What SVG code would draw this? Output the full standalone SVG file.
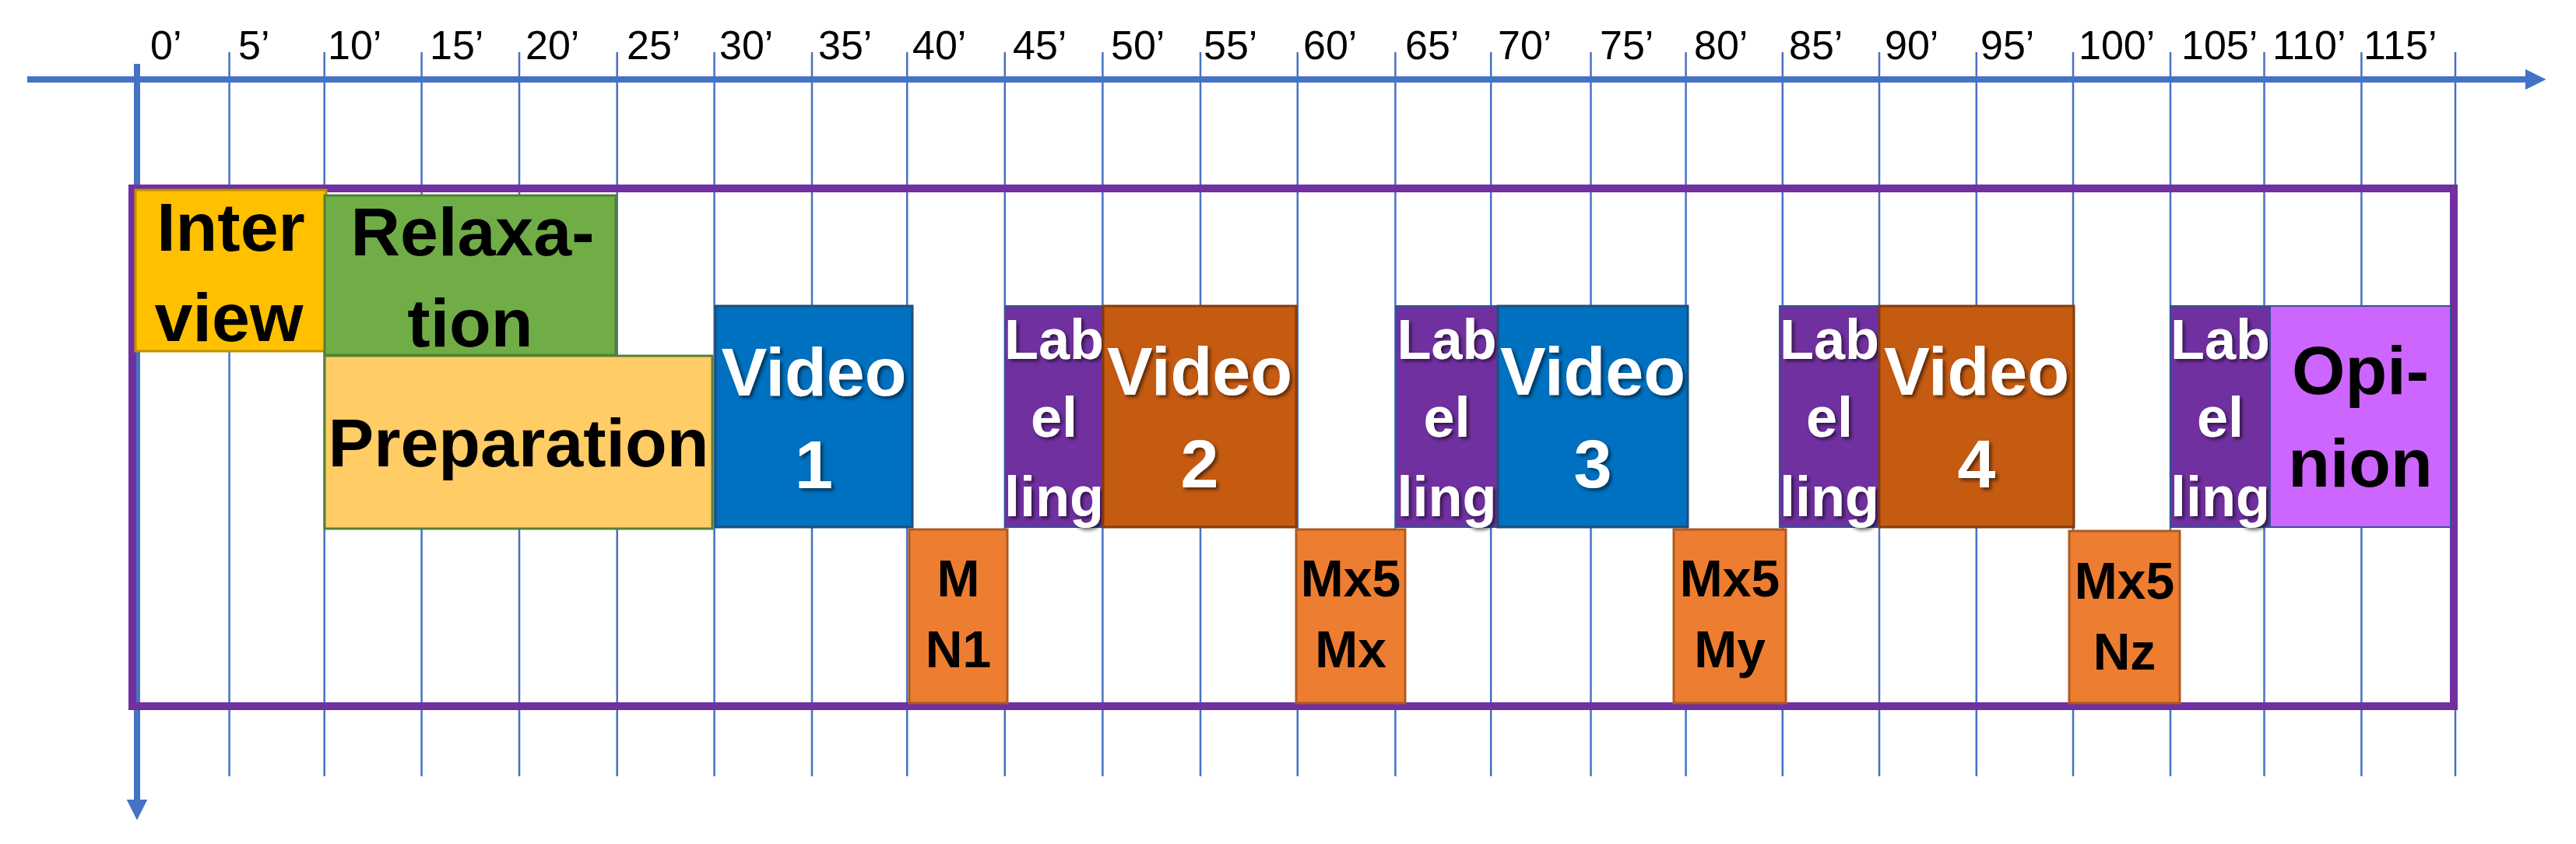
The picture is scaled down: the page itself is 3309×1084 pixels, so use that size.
<svg xmlns="http://www.w3.org/2000/svg" width="3309" height="1084" viewBox="0 0 3309 1084">
<style>
.tick{stroke:#4472C4;stroke-width:2.5;fill:none}
.axis{stroke:#4472C4;stroke-width:8;fill:none}
.lbl{font-family:"Liberation Sans",Arial,sans-serif;font-size:52px;fill:#000}
.t{font-family:"Liberation Sans",Arial,sans-serif;font-weight:bold;text-anchor:middle}
.big{font-size:88px}
.lab{font-size:72px;fill:#fff}
.mx{font-size:66px;fill:#000}
.w{fill:#fff}
.k{fill:#000}
</style>
<defs>
<filter id="sh" x="-20%" y="-20%" width="140%" height="140%">
<feDropShadow dx="3" dy="3" stdDeviation="2" flood-color="#000" flood-opacity="0.55"/>
</filter>
<marker id="ah" viewBox="0 0 10 10" refX="0" refY="5" markerWidth="3.3" markerHeight="3.3" orient="auto" markerUnits="strokeWidth">
<path d="M0,0 L10,5 L0,10 z" fill="#4472C4"/>
</marker>
</defs>

<g id="grid">
<line class="tick" x1="294.6" y1="67" x2="294.6" y2="997"/>
<line class="tick" x1="416.7" y1="67" x2="416.7" y2="997"/>
<line class="tick" x1="541.6" y1="67" x2="541.6" y2="997"/>
<line class="tick" x1="667" y1="67" x2="667" y2="997"/>
<line class="tick" x1="792.7" y1="67" x2="792.7" y2="997"/>
<line class="tick" x1="917.6" y1="67" x2="917.6" y2="997"/>
<line class="tick" x1="1043" y1="67" x2="1043" y2="997"/>
<line class="tick" x1="1165.2" y1="67" x2="1165.2" y2="997"/>
<line class="tick" x1="1290.8" y1="67" x2="1290.8" y2="997"/>
<line class="tick" x1="1416.4" y1="67" x2="1416.4" y2="997"/>
<line class="tick" x1="1542" y1="67" x2="1542" y2="997"/>
<line class="tick" x1="1666.8" y1="67" x2="1666.8" y2="997"/>
<line class="tick" x1="1792.4" y1="67" x2="1792.4" y2="997"/>
<line class="tick" x1="1915.2" y1="67" x2="1915.2" y2="997"/>
<line class="tick" x1="2043.5" y1="67" x2="2043.5" y2="997"/>
<line class="tick" x1="2165.6" y1="67" x2="2165.6" y2="997"/>
<line class="tick" x1="2289.8" y1="67" x2="2289.8" y2="997"/>
<line class="tick" x1="2414" y1="67" x2="2414" y2="997"/>
<line class="tick" x1="2538.8" y1="67" x2="2538.8" y2="997"/>
<line class="tick" x1="2663" y1="67" x2="2663" y2="997"/>
<line class="tick" x1="2788" y1="67" x2="2788" y2="997"/>
<line class="tick" x1="2908.5" y1="67" x2="2908.5" y2="997"/>
<line class="tick" x1="3033.4" y1="67" x2="3033.4" y2="997"/>
<line class="tick" x1="3154" y1="67" x2="3154" y2="997"/>
</g>

<g id="tick-labels">
<text class="lbl" x="193" y="76">0’</text>
<text class="lbl" x="306" y="76">5’</text>
<text class="lbl" x="421" y="76">10’</text>
<text class="lbl" x="552" y="76">15’</text>
<text class="lbl" x="675" y="76">20’</text>
<text class="lbl" x="805" y="76">25’</text>
<text class="lbl" x="924" y="76">30’</text>
<text class="lbl" x="1051" y="76">35’</text>
<text class="lbl" x="1172" y="76">40’</text>
<text class="lbl" x="1301" y="76">45’</text>
<text class="lbl" x="1427" y="76">50’</text>
<text class="lbl" x="1546" y="76">55’</text>
<text class="lbl" x="1674" y="76">60’</text>
<text class="lbl" x="1805" y="76">65’</text>
<text class="lbl" x="1924" y="76">70’</text>
<text class="lbl" x="2055" y="76">75’</text>
<text class="lbl" x="2176" y="76">80’</text>
<text class="lbl" x="2298" y="76">85’</text>
<text class="lbl" x="2421" y="76">90’</text>
<text class="lbl" x="2544" y="76">95’</text>
<text class="lbl" x="2670" y="76">100’</text>
<text class="lbl" x="2802" y="76">105’</text>
<text class="lbl" x="2919" y="76">110’</text>
<text class="lbl" x="3036" y="76">115’</text>
</g>

<g id="connectors">
<line class="axis" x1="35" y1="102" x2="3244" y2="102" marker-end="url(#ah)"/>
<line class="axis" x1="176" y1="82" x2="176" y2="1027" stroke-width="7" marker-end="url(#ah)"/>
</g>

<rect id="frame" x="170" y="242" width="2982" height="665" fill="none" stroke="#7030A0" stroke-width="10"/>

<g id="interview">
<rect x="174" y="244" width="245" height="207" fill="#FFC000" stroke="#BF9000" stroke-width="3"/>
<text class="t big k" x="296.5" y="322">Inter</text>
<text class="t big k" x="294" y="438">view</text>
</g>
<g id="relaxation">
<rect x="417" y="251" width="374" height="205" fill="#70AD47" stroke="#507E32" stroke-width="3"/>
<text class="t big k" x="607" y="328">Relaxa-</text>
<text class="t big k" x="604" y="445">tion</text>
</g>
<g id="preparation">
<rect x="417" y="457" width="498" height="222" fill="#FFCC66" stroke="#548235" stroke-width="3"/>
<text class="t big k" x="666" y="599">Preparation</text>
</g>
<g id="video1">
<rect x="919" y="393" width="253" height="284" fill="#0070C0" stroke="#1F4E79" stroke-width="3"/>
<text class="t big w" x="1045.5" y="508" filter="url(#sh)">Video</text>
<text class="t big w" x="1045.5" y="627" filter="url(#sh)">1</text>
</g>
<g id="mn1">
<rect x="1168" y="680" width="126" height="223" fill="#ED7D31" stroke="#AE5A21" stroke-width="3"/>
<text class="t mx" x="1231" y="766">M</text>
<text class="t mx" x="1231" y="857">N1</text>
</g>
<g id="labelling1">
<rect x="1291" y="393" width="126" height="284" fill="#7030A0" stroke="#2F5597" stroke-width="2"/>
<text class="t lab" x="1354" y="461" filter="url(#sh)">Lab</text>
<text class="t lab" x="1354" y="561" filter="url(#sh)">el</text>
<text class="t lab" x="1354" y="663" filter="url(#sh)">ling</text>
</g>
<g id="video2">
<rect x="1417" y="393" width="248" height="284" fill="#C55A11" stroke="#843C0C" stroke-width="3"/>
<text class="t big w" x="1541" y="507" filter="url(#sh)">Video</text>
<text class="t big w" x="1541" y="626" filter="url(#sh)">2</text>
</g>
<g id="mx5mx">
<rect x="1665" y="680" width="140" height="223" fill="#ED7D31" stroke="#AE5A21" stroke-width="3"/>
<text class="t mx" x="1735" y="766">Mx5</text>
<text class="t mx" x="1735" y="857">Mx</text>
</g>
<g id="labelling2">
<rect x="1793" y="393" width="131" height="284" fill="#7030A0" stroke="#2F5597" stroke-width="2"/>
<text class="t lab" x="1858.5" y="461" filter="url(#sh)">Lab</text>
<text class="t lab" x="1858.5" y="561" filter="url(#sh)">el</text>
<text class="t lab" x="1858.5" y="663" filter="url(#sh)">ling</text>
</g>
<g id="video3">
<rect x="1924" y="393" width="244" height="284" fill="#0070C0" stroke="#1F4E79" stroke-width="3"/>
<text class="t big w" x="2046" y="507" filter="url(#sh)">Video</text>
<text class="t big w" x="2046" y="626" filter="url(#sh)">3</text>
</g>
<g id="mx5my">
<rect x="2150" y="680" width="144" height="223" fill="#ED7D31" stroke="#AE5A21" stroke-width="3"/>
<text class="t mx" x="2222" y="766">Mx5</text>
<text class="t mx" x="2222" y="857">My</text>
</g>
<g id="labelling3">
<rect x="2286" y="393" width="128" height="284" fill="#7030A0" stroke="#2F5597" stroke-width="2"/>
<text class="t lab" x="2350" y="461" filter="url(#sh)">Lab</text>
<text class="t lab" x="2350" y="561" filter="url(#sh)">el</text>
<text class="t lab" x="2350" y="663" filter="url(#sh)">ling</text>
</g>
<g id="video4">
<rect x="2414" y="393" width="250" height="284" fill="#C55A11" stroke="#843C0C" stroke-width="3"/>
<text class="t big w" x="2539" y="507" filter="url(#sh)">Video</text>
<text class="t big w" x="2539" y="626" filter="url(#sh)">4</text>
</g>
<g id="mx5nz">
<rect x="2658" y="682" width="142" height="221" fill="#ED7D31" stroke="#AE5A21" stroke-width="3"/>
<text class="t mx" x="2729" y="769">Mx5</text>
<text class="t mx" x="2729" y="860">Nz</text>
</g>
<g id="labelling4">
<rect x="2788" y="393" width="128" height="284" fill="#7030A0" stroke="#2F5597" stroke-width="2"/>
<text class="t lab" x="2852" y="461" filter="url(#sh)">Lab</text>
<text class="t lab" x="2852" y="561" filter="url(#sh)">el</text>
<text class="t lab" x="2852" y="663" filter="url(#sh)">ling</text>
</g>
<g id="opinion">
<rect x="2916" y="393" width="232" height="284" fill="#CC66FF" stroke="#2F5597" stroke-width="2"/>
<text class="t big k" x="3032" y="506">Opi-</text>
<text class="t big k" x="3032" y="625">nion</text>
</g>
</svg>
